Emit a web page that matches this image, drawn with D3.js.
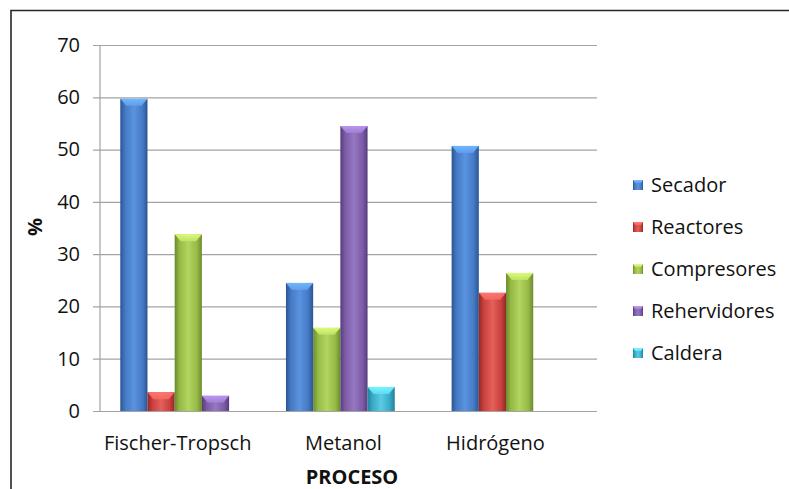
<!DOCTYPE html>
<html>
<head>
<meta charset="utf-8">
<script src="https://cdn.jsdelivr.net/npm/d3@7"></script>
<style>
  html, body { margin: 0; padding: 0; background: #ffffff; }
  svg { display: block; font-family: "Open Sans", "DejaVu Sans", sans-serif; }
</style>
</head>
<body>
<svg id="chart" width="789" height="489"></svg>
<script>
// Process categories and equipment series (% share); null = no bar for that process
const categories = ["Fischer-Tropsch", "Metanol", "Hidrógeno"];
const seriesNames = ["Secador", "Reactores", "Compresores", "Rehervidores", "Caldera"];
const secador      = [59.7, 24.5, 50.7];
const reactores    = [3.6, null, 22.6];
const compresores  = [33.8, 15.9, 26.4];
const rehervidores = [2.9, 54.5, null];
const caldera      = [null, 4.6, null];
const yTicks = [0, 10, 20, 30, 40, 50, 60, 70];
const xTitle = "PROCESO";
const yTitle = "%";

const seriesValues = [secador, reactores, compresores, rehervidores, caldera];
// base, light (centre highlight), dark (edge shade)
const palette = [
  { base: "#4579c4", light: "#5a93e0", dark: "#2a5592" },
  { base: "#c9403c", light: "#e4605a", dark: "#93282a" },
  { base: "#96ba45", light: "#b2d460", dark: "#6a8a2c" },
  { base: "#7d5ba6", light: "#9677c2", dark: "#563d7a" },
  { base: "#36aac6", light: "#5ccbe4", dark: "#23809a" }
];
const textColor = "#111111";
const fontSize = 20;

const svg = d3.select("#chart");
const margin = { left: 100, right: 192, top: 45, bottom: 78 };
const W = 789, H = 489;
const innerW = W - margin.left - margin.right;
const innerH = H - margin.top - margin.bottom;

// Outer frame (top and left edges visible)
svg.append("path")
  .attr("d", "M11,489 V10.5 H789")
  .attr("fill", "none")
  .attr("stroke", "#262626")
  .attr("stroke-width", 1.6);

// Gradients for the bevelled bars
const defs = svg.append("defs");
palette.forEach((c, i) => {
  const g = defs.append("linearGradient").attr("id", "bar" + i)
    .attr("x1", "0").attr("x2", "1").attr("y1", "0").attr("y2", "0");
  g.append("stop").attr("offset", "0%").attr("stop-color", c.dark);
  g.append("stop").attr("offset", "18%").attr("stop-color", c.base);
  g.append("stop").attr("offset", "50%").attr("stop-color", c.light);
  g.append("stop").attr("offset", "82%").attr("stop-color", c.base);
  g.append("stop").attr("offset", "100%").attr("stop-color", c.dark);
  const t = defs.append("linearGradient").attr("id", "cap" + i)
    .attr("x1", "0").attr("x2", "0").attr("y1", "0").attr("y2", "1");
  t.append("stop").attr("offset", "0%").attr("stop-color", d3.color(c.light).brighter(0.7));
  t.append("stop").attr("offset", "100%").attr("stop-color", d3.color(c.light).brighter(0.2));
});

const g = svg.append("g").attr("transform", `translate(${margin.left},${margin.top})`);

const y = d3.scaleLinear().domain([0, 70]).range([innerH, 0]);
const x0 = d3.scaleBand().domain(categories).range([0, innerW]).padding(0);
const x1 = d3.scaleBand().domain(d3.range(seriesNames.length))
  .range([0, x0.bandwidth()]).paddingInner(0).paddingOuter(0.545).align(0.684);

// Gridlines + y axis
const yAxis = d3.axisLeft(y).tickValues(yTicks).tickSize(-innerW)
  .tickFormat(d3.format("d"));
const ya = g.append("g").call(yAxis);
ya.select(".domain").remove();
ya.selectAll(".tick line").attr("stroke", "#a3a3a3").attr("stroke-width", 1.2).attr("x1", -7);
ya.selectAll(".tick text").attr("font-size", fontSize).attr("fill", textColor)
  .attr("font-family", "'Open Sans', sans-serif").attr("x", -20);
g.append("line").attr("x1", 0).attr("x2", 0).attr("y1", 0).attr("y2", innerH)
  .attr("stroke", "#a3a3a3").attr("stroke-width", 1.2);

// Bars: each process shows its present series side by side
const barData = [];
const groupCentres = [];
categories.forEach((cat, ci) => {
  const present = seriesValues.map((vals, si) => ({ si, v: vals[ci] })).filter(d => d.v != null);
  present.forEach((d, k) => {
    barData.push({ cat, si: d.si, v: d.v, x: x0(cat) + x1(k), w: x1.bandwidth() });
  });
  const first = x0(cat) + x1(0);
  const last = x0(cat) + x1(present.length - 1) + x1.bandwidth();
  groupCentres.push({ cat, cx: (first + last) / 2 });
});

const bars = g.append("g").selectAll("g.bar").data(barData).join("g").attr("class", "bar");
bars.append("rect")
  .attr("x", d => d.x).attr("y", d => y(d.v))
  .attr("width", d => d.w).attr("height", d => y(0) - y(d.v))
  .attr("fill", d => `url(#bar${d.si})`);
// bevelled top cap
bars.append("path")
  .attr("d", d => {
    const x = d.x, t = y(d.v), w = d.w, h = Math.min(7, (y(0) - y(d.v)) / 2), ins = w * 0.22;
    return `M${x},${t} H${x + w} L${x + w - ins},${t + h} H${x + ins} Z`;
  })
  .attr("fill", d => `url(#cap${d.si})`)
  .attr("opacity", 0.9);

// Category labels
g.append("g").selectAll("text").data(groupCentres).join("text")
  .attr("x", d => d.cx + 3).attr("y", innerH + 39)
  .attr("text-anchor", "middle").attr("font-size", fontSize).attr("fill", textColor)
  .text(d => d.cat);

// Axis titles
svg.append("text").attr("x", 352).attr("y", 484).attr("text-anchor", "middle")
  .attr("font-size", fontSize).attr("font-weight", "bold").attr("fill", textColor).text(xTitle);
svg.append("text").attr("transform", "translate(42,227) rotate(-90)").attr("text-anchor", "middle")
  .attr("font-size", fontSize).attr("font-weight", "bold").attr("fill", textColor).text(yTitle);

// Legend
const legend = svg.append("g").attr("transform", "translate(633,185)");
const li = legend.selectAll("g").data(seriesNames).join("g")
  .attr("transform", (d, i) => `translate(0,${i * 42})`);
li.append("rect").attr("x", 0).attr("y", -5).attr("width", 10).attr("height", 10)
  .attr("fill", (d, i) => `url(#bar${i})`);
li.append("path").attr("d", "M0,-5 H10 L8,-2 H2 Z")
  .attr("fill", (d, i) => `url(#cap${i})`);
li.append("text").attr("x", 18).attr("y", 7).attr("font-size", fontSize).attr("fill", textColor)
  .text(d => d);
</script>
</body>
</html>
